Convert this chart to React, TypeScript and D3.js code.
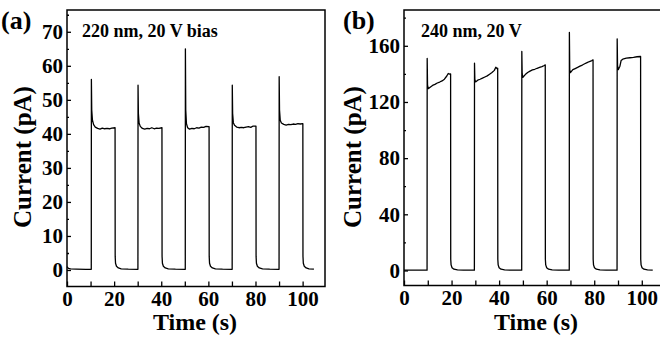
import * as d3 from "d3";
import { useRef, useEffect } from "react";

// time (s), current (pA): 220 nm, 20 V bias
const traceA: [number, number][] = [
  [0, 1.0], [0.6, 0.5], [1.5, 0.3], [4, 0.25], [8, 0.2], [10.3, 0.2],
  [10.35, 56], [10.5, 47], [10.8, 44], [11.3, 42.7], [12, 42.0], [13, 41.6], [14, 41.4], [15, 41.7], [16, 41.5], [17, 41.6], [18, 41.5], [19, 41.7], [20.4, 41.8],
  [20.45, 4], [20.6, 2], [21, 1.1], [21.8, 0.6], [23, 0.35], [26, 0.25], [30.1, 0.2],
  [30.15, 54.3], [30.3, 46], [30.6, 43.2], [31.1, 42.2], [32, 41.6], [33, 41.4], [34, 41.6], [35, 41.5], [36, 41.8], [37, 41.5], [38, 41.7], [39, 41.6], [40.3, 41.8],
  [40.35, 4], [40.5, 2], [40.9, 1.1], [41.7, 0.6], [43, 0.35], [46, 0.25], [50.2, 0.2],
  [50.25, 65], [50.4, 47], [50.7, 43], [51.2, 41.8], [52, 41.4], [53, 41.6], [54, 41.5], [55, 41.8], [56, 41.7], [57, 42], [58, 41.9], [59, 42.2], [60.3, 42.1],
  [60.35, 4], [60.5, 2], [60.9, 1.1], [61.7, 0.6], [63, 0.35], [66, 0.25], [70.1, 0.2],
  [70.15, 54.3], [70.3, 46], [70.6, 43.3], [71.1, 42.5], [72, 42.0], [73, 41.8], [74, 41.9], [75, 41.8], [76, 42], [77, 42.1], [78, 41.9], [79, 42.3], [80.2, 42.3],
  [80.25, 4], [80.4, 2], [80.8, 1.1], [81.6, 0.6], [83, 0.35], [86, 0.25], [90.0, 0.2],
  [90.05, 56.8], [90.2, 47], [90.5, 44], [91, 43.2], [92, 42.8], [93, 42.6], [94, 42.8], [95, 42.7], [96, 42.9], [97, 42.8], [98, 43], [99, 42.9], [100.1, 43],
  [100.15, 4], [100.3, 2], [100.7, 1.1], [101.5, 0.6], [102.7, 0.35], [104.8, 0.25],
];

// panel (b): 240 nm, 20 V
const traceB: [number, number][] = [
  [0, 0.3], [5, 0.2], [9.7, 0.2],
  [9.75, 151], [9.9, 132], [10.2, 129.5], [11, 130.5], [12, 131.8], [13, 132.5], [14, 133.5], [15, 134.2], [16, 135], [17, 136.2], [18, 138.5], [18.6, 140.3], [19.2, 139.8], [19.6, 140],
  [19.65, 8], [19.8, 4], [20.2, 2], [21, 0.9], [22.5, 0.4], [25, 0.25], [29.6, 0.2],
  [29.65, 147.6], [29.8, 136], [30.1, 134.3], [31, 135.5], [32, 136.2], [33, 137], [34, 137.8], [35, 138.6], [36, 139.8], [37, 141], [38, 142.5], [38.6, 144.7], [39.1, 143.8], [39.4, 144],
  [39.45, 8], [39.6, 4], [40, 2], [40.8, 0.9], [42.3, 0.4], [45, 0.25], [49.5, 0.2],
  [49.55, 156], [49.7, 140], [50, 137.6], [51, 139.5], [52, 141], [53, 142], [54, 142.8], [55, 143.3], [56, 144], [57, 144.6], [58, 145.2], [59, 146], [59.4, 146.4],
  [59.45, 8], [59.6, 4], [60, 2], [60.8, 0.9], [62.3, 0.4], [65, 0.25], [69.5, 0.2],
  [69.55, 169.5], [69.7, 143], [70, 140.9], [71, 143], [72, 143.8], [73, 144.6], [74, 145.5], [75, 146.3], [76, 147.2], [77, 148], [78, 148.8], [79, 149.5], [79.5, 150],
  [79.55, 8], [79.7, 4], [80.1, 2], [80.9, 0.9], [82.4, 0.4], [85, 0.25], [89.6, 0.2],
  [89.65, 165], [89.8, 146], [90.1, 143], [90.8, 145.5], [91.3, 149.5], [92, 150.5], [93.5, 151.2], [95, 151.5], [96.5, 151.8], [98, 152.2], [99.5, 152.4],
  [99.55, 8], [99.7, 4], [100.1, 2], [100.9, 0.9], [102.4, 0.4], [104.6, 0.3],
];

const xTicks = [0, 20, 40, 60, 80, 100];
const xMinor = [10, 30, 50, 70, 90];
const yTicksA = [0, 10, 20, 30, 40, 50, 60, 70];
const yMinorA = [5, 15, 25, 35, 45, 55, 65, 75];
const yTicksB = [0, 40, 80, 120, 160];
const yMinorB = [20, 60, 100, 140, 180];

const font = "'Liberation Serif', 'Times New Roman', serif";

const Panel = ({ trace, box, xDom, yDom, yTicks, yMinor, tag, note, tagX, noteX, titleX, yTitleX }) => {
  const bottomAxis = useRef(), bottomMinor = useRef(), leftAxis = useRef(), leftMinor = useRef();

  let xScale = d3.scaleLinear().domain(xDom).range([box.left, box.right]),
    yScale = d3.scaleLinear().domain(yDom).range([box.bottom, box.top]);

  let valueLine = d3.line().x((d) => xScale(d[0])).y((d) => yScale(d[1]));

  useEffect(() => {
    d3.select(bottomAxis.current).call(d3.axisBottom(xScale).tickValues(xTicks).tickSize(-5).tickSizeOuter(0).tickPadding(5));
    d3.select(bottomMinor.current).call(d3.axisBottom(xScale).tickValues(xMinor).tickSize(-5).tickSizeOuter(0).tickFormat(() => ""));
    d3.select(leftAxis.current).call(d3.axisLeft(yScale).tickValues(yTicks).tickSize(-4).tickSizeOuter(0).tickPadding(4));
    d3.select(leftMinor.current).call(d3.axisLeft(yScale).tickValues(yMinor.filter((v) => v < yDom[1])).tickSize(-2).tickSizeOuter(0).tickFormat(() => ""));
    [bottomAxis, bottomMinor, leftAxis, leftMinor].forEach((r) => {
      const g = d3.select(r.current);
      g.selectAll("path").remove();
      g.selectAll("line").attr("stroke", "#000").attr("stroke-width", 1.3);
      g.selectAll("text").attr("font-family", font).attr("font-weight", "bold").attr("font-size", 21).attr("fill", "#000");
    });
  }, []);

  return (
    <g>
      <rect x={box.left} y={box.top} width={box.right - box.left} height={box.bottom - box.top} fill="none" stroke="#000" strokeWidth={1.5} />
      <g ref={bottomAxis} transform={`translate(0, ${box.bottom})`} />
      <g ref={bottomMinor} transform={`translate(0, ${box.bottom})`} />
      <g ref={leftAxis} transform={`translate(${box.left}, 0)`} />
      <g ref={leftMinor} transform={`translate(${box.left}, 0)`} />
      <path d={valueLine(trace)} stroke="#000" strokeWidth={1.3} fill="none" strokeLinejoin="round" />
      <text x={tagX} y={29} fontFamily={font} fontWeight="bold" fontSize={26}>{tag}</text>
      <text x={noteX} y={37} fontFamily={font} fontWeight="bold" fontSize={18}>{note}</text>
      <text x={titleX} y={330} textAnchor="middle" fontFamily={font} fontWeight="bold" fontSize={24}>Time (s)</text>
      <text transform={`translate(${yTitleX}, 157) rotate(-90)`} textAnchor="middle" fontFamily={font} fontWeight="bold" fontSize={25}>Current (pA)</text>
    </g>
  );
};

export default function App() {
  return (
    <svg width={660} height={337} style={{ position: "absolute", left: 0, top: 0, background: "#fff" }}>
      <Panel
        trace={traceA}
        box={{ left: 67, right: 325, top: 10, bottom: 286.5 }}
        xDom={[0, 109.5]}
        yDom={[-4.85, 76.4]}
        yTicks={yTicksA}
        yMinor={yMinorA}
        tag="(a)"
        note="220 nm, 20 V bias"
        tagX={1}
        noteX={82}
        titleX={195}
        yTitleX={31}
      />
      <Panel
        trace={traceB}
        box={{ left: 404, right: 662, top: 10, bottom: 285.5 }}
        xDom={[0, 108.5]}
        yDom={[-10.7, 185.5]}
        yTicks={yTicksB}
        yMinor={yMinorB}
        tag="(b)"
        note="240 nm, 20 V"
        tagX={343}
        noteX={421}
        titleX={536}
        yTitleX={361}
      />
    </svg>
  );
}
